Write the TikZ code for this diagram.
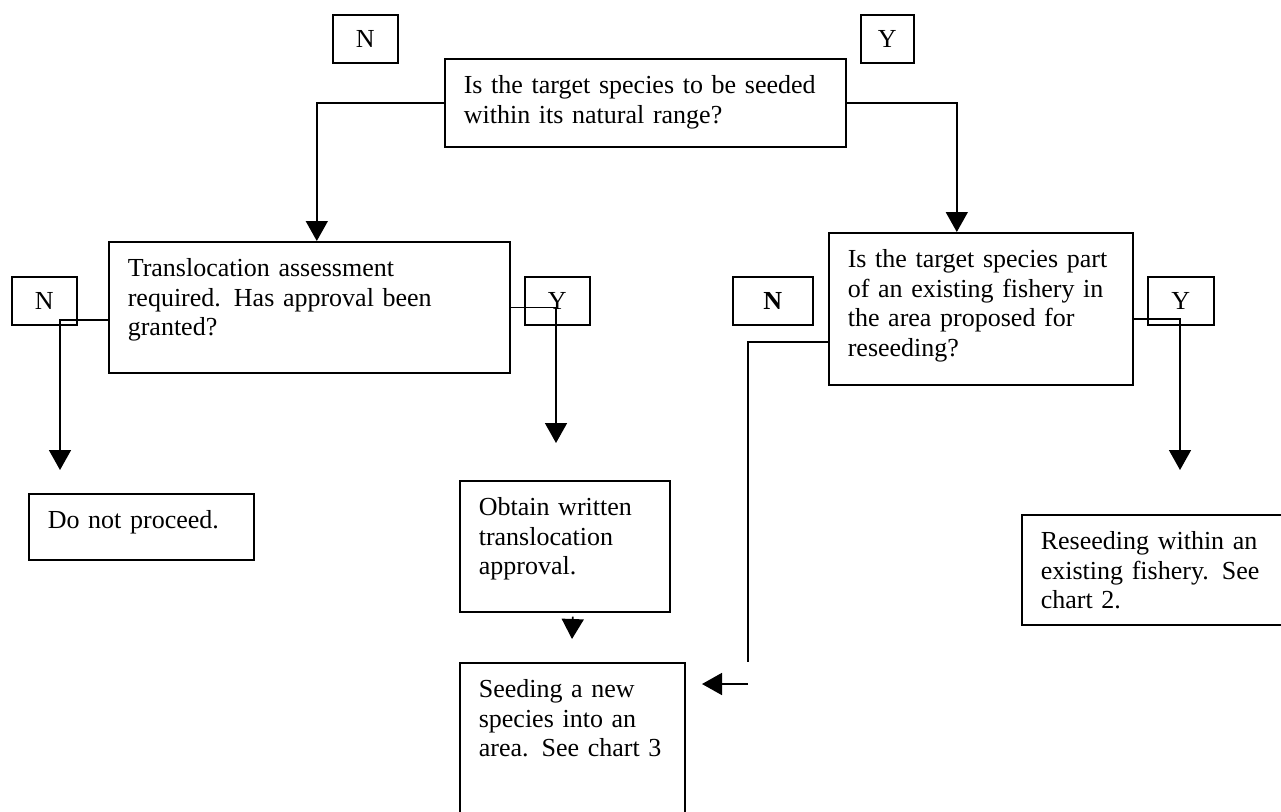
\documentclass[tikz,border=0pt]{standalone}
\usepackage{fontspec}
\setmainfont{Liberation Serif}
\usetikzlibrary{arrows.meta}

\begin{document}
\begin{tikzpicture}[x=1pt, y=-1pt,
    >={Triangle[width=22pt, length=20pt]},
    every node/.style={
    rectangle,
    draw,
    anchor=north west,
    line width=1.6pt,
    font=\fontsize{26}{29.5}\selectfont
},
    question/.style={
    inner xsep=19pt,
    inner ysep=0pt,
    align=left,
    text height=35pt
},
    answer/.style={
    inner sep=0pt,
    align=center,
    minimum height=48pt
}]

    \useasboundingbox (0, 0) rectangle (1281, 811);
    \clip (0, 0) rectangle (1281, 811);



    \node (seeded_within_range) [question, text width=363pt, text depth=53pt, shift={(444, 58)}]
    {
        Is the target species to be seeded\\
        within its natural range?
    };

    \node (no_top) [answer, minimum width=65pt, shift={(332, 14)}] {N};
    \node (yes_top) [answer, minimum width=53pt, shift={(860, 14)}] {Y};



    \node (translocation_assessment) [question, text width=363pt, text depth=96pt, shift={(108, 241)}]
    {
        Translocation assessment\\
        required. Has approval been\\
        granted?
    };

    \node (no_left) [answer, minimum width=65pt, shift={(11, 276)}] {N};
    \node (yes_left) [answer, minimum width=65pt, shift={(524, 276)}] {Y};

    \node (part_of_fishery) [question, text width=266pt, text depth=117pt, shift={(828, 232)}]
    {
        Is the target species part\\
        of an existing fishery in\\
        the area proposed for\\
        reseeding?
    };

    \node (no_right) [answer, minimum width=80pt, font=\fontsize{26}{29.5}\selectfont\bfseries, shift={(732, 276)}] {N};
    \node (yes_right) [answer, minimum width=66pt, shift={(1147, 276)}] {Y};



    \node (do_not_proceed) [question, text width=187pt, text depth=31pt, shift={(28, 493)}]
    {
        Do not proceed.
    };

    \node (obtain_approval) [question, text width=172pt, text depth=96pt, shift={(459, 480)}]
    {
        Obtain written\\
        translocation\\
        approval.
    };

    \node (seeding_new_species) [question, text width=187pt, text depth=135pt, shift={(459, 662)}]
    {
        Seeding a new\\
        species into an\\
        area.  See chart 3
    };

    \node (reseeding_existing_fishery) [question, text width=242pt, text depth=75pt, shift={(1021, 514)}]
    {
        Reseeding within an\\
        existing fishery.  See\\
        chart 2.
    };


    \coordinate (do_not_proceed_in) at (60, 470);
    \coordinate (obtain_approval_in) at (556, 443);
    \coordinate (seeding_top_in) at (572, 639);
    \coordinate (reseeding_in) at (1180, 470);
    \coordinate (no_right_bend) at (748, 662);
    \coordinate (seeding_arrow_start) at (748, 684);
    \coordinate (seeding_in) at (702, 684);


    \draw[->, line width=1.6pt] (seeded_within_range.west) -| ([xshift=7.5pt]translocation_assessment.north);
    \draw[->, line width=1.6pt] (seeded_within_range.east) -| ([xshift=-24pt]part_of_fishery.north);

    \draw[->, line width=1.6pt] ([yshift=-12.5pt]translocation_assessment.west) -| (do_not_proceed_in);
    \draw[->, line width=1.6pt] (translocation_assessment.east) -| (obtain_approval_in);
    \draw[->, line width=1.6pt] ([xshift=8pt, yshift=-4pt]obtain_approval.south) -- (seeding_top_in);

    \draw[line width=1.6pt] ([yshift=-33pt]part_of_fishery.west) -| (no_right_bend);
    \draw[->, line width=1.6pt] (seeding_arrow_start) -- (seeding_in);
    \draw[->, line width=1.6pt] ([yshift=-10pt]part_of_fishery.east) -| (reseeding_in);


\end{tikzpicture}
\end{document}
